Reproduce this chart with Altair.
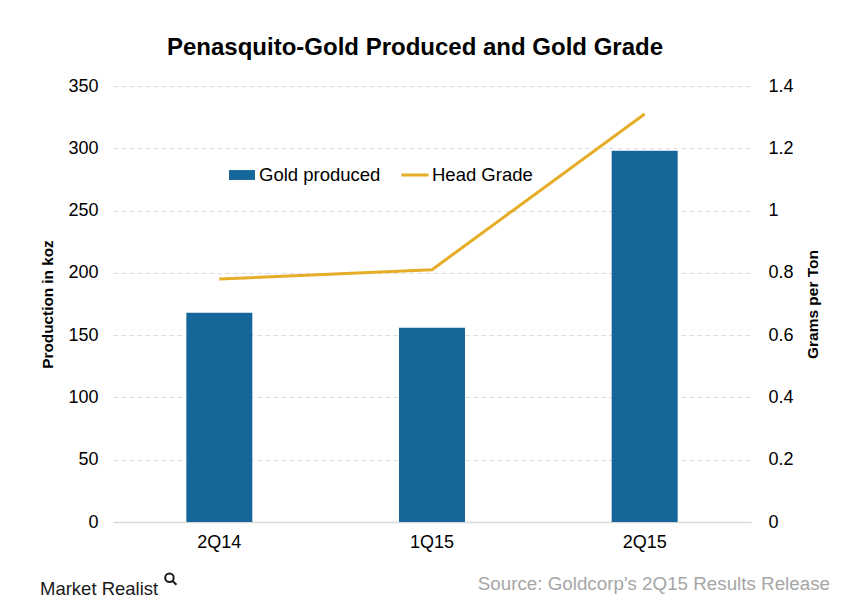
import altair as alt
import pandas as pd

quarters = ["2Q14", "1Q15", "2Q15"]
gold_produced = [168, 156, 298]
head_grade = [0.78, 0.81, 1.31]

df = pd.DataFrame({"quarter": quarters, "gold": gold_produced, "grade": head_grade})

FONT = "Liberation Sans"
BLUE = "#156699"
GOLD = "#E6AD28"

x = alt.X("quarter:N", sort=quarters, title=None,
          scale=alt.Scale(paddingInner=0, paddingOuter=0),
          axis=alt.Axis(labelAngle=0, labelFontSize=18, labelColor="#000000", labelPadding=11,
                        ticks=False, domain=True, domainColor="#d9d9d9", domainWidth=1.5,
                        labelFont=FONT))

base = alt.Chart(df)

bars = base.mark_bar(size=66).encode(
    x=x,
    y=alt.Y("gold:Q", title="Production in koz",
            scale=alt.Scale(domain=[0, 350]),
            axis=alt.Axis(values=list(range(0, 351, 50)), labelFontSize=18, labelColor="#000000",
                          labelPadding=15, ticks=False, domain=False,
                          grid=True, gridColor="#d9d9d9", gridDash=[4, 4], gridWidth=1,
                          titleFontSize=15.3, titleFontWeight="bold", titleColor="#000000",
                          titleX=-66, titleY=218, titleAngle=270, titleBaseline="middle",
                          titleAlign="center")),
    fill=alt.Fill("s1:N", scale=alt.Scale(domain=["Gold produced"], range=[BLUE]),
                  legend=alt.Legend(title=None, orient="none", legendX=116, legendY=76,
                                    symbolType="M-1,-0.38H1V0.38H-1Z", symbolSize=676,
                                    symbolStrokeWidth=0, labelFontSize=18.5, labelColor="#000000",
                                    labelOffset=4, padding=0, labelFont=FONT)),
).transform_calculate(s1="'Gold produced'")

line = base.mark_line(strokeWidth=3).encode(
    x=x,
    y=alt.Y("grade:Q", title="Grams per Ton",
            scale=alt.Scale(domain=[0, 1.4]),
            axis=alt.Axis(orient="right", values=[0, 0.2, 0.4, 0.6, 0.8, 1, 1.2, 1.4],
                          format="~g",
                          labelFontSize=18, labelColor="#000000", labelPadding=17,
                          ticks=False, domain=False, grid=False,
                          titleFontSize=15.5, titleFontWeight="bold", titleColor="#000000",
                          titleAngle=270, titleX=61, titleY=218, titleBaseline="middle",
                          titleAlign="center")),
    stroke=alt.Stroke("s2:N", scale=alt.Scale(domain=["Head Grade"], range=[GOLD]),
                      legend=alt.Legend(title=None, orient="none", legendX=287, legendY=74,
                                        symbolType="stroke", symbolSize=729, symbolStrokeWidth=3,
                                        labelFontSize=18.5, labelColor="#000000", labelOffset=2,
                                        padding=0, labelFont=FONT)),
).transform_calculate(s2="'Head Grade'")

footer_df = pd.DataFrame({"brand": ["Market Realist"],
                          "source": ["Source: Goldcorp's 2Q15 Results Release"]})
fbase = alt.Chart(footer_df)
brand = fbase.mark_text(align="left", baseline="alphabetic", fontSize=18.5,
                        font=FONT, color="#1a1a1a").encode(
    text="brand:N", x=alt.value(-73), y=alt.value(509))
icon = fbase.mark_point(
    shape="M-0.75,-0.15A0.55,0.55 0 1,0 0.35,-0.15A0.55,0.55 0 1,0 -0.75,-0.15M0.2,0.25L0.7,0.75",
    size=240, filled=False, strokeWidth=2, color="#1a1a1a", opacity=1
).encode(x=alt.value(58), y=alt.value(493))
source = fbase.mark_text(align="right", baseline="alphabetic", fontSize=18.8,
                         font=FONT, color="#a6a6a6").encode(
    text="source:N", x=alt.value(717), y=alt.value(504))

chart = alt.layer(bars, line, brand, icon, source).resolve_scale(y="independent").properties(
    width=638, height=436,
    autosize=alt.AutoSizeParams(type="none"),
    padding={"left": 105, "top": 78, "right": 86, "bottom": 78},
    title=alt.TitleParams("Penasquito-Gold Produced and Gold Grade", fontSize=24,
                          fontWeight="bold", font=FONT, color="#000000",
                          anchor="middle", offset=17, dx=-17),
).configure(font=FONT, background="white").configure_view(stroke=None)

chart.save("out.html", embed_options={"renderer": "svg", "actions": False})
